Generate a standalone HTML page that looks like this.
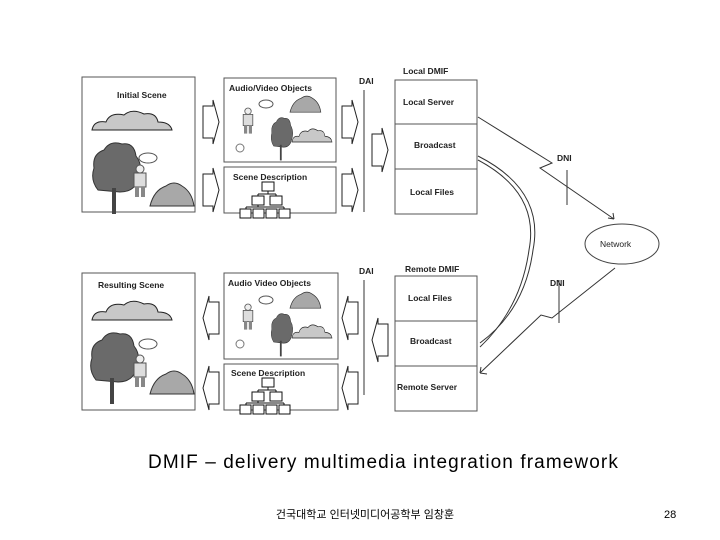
<!DOCTYPE html>
<html><head><meta charset="utf-8"><style>
html,body{margin:0;padding:0;background:#fff;}
body{width:720px;height:540px;position:relative;overflow:hidden;font-family:"Liberation Sans",sans-serif;}
</style></head><body>
<svg width="720" height="540" viewBox="0 0 720 540" xmlns="http://www.w3.org/2000/svg" style="position:absolute;left:0;top:0">
<defs>
<g id="cloud"><path d="M0,20 Q2,10 14,12 Q18,2 32,5 Q40,-2 52,4 Q64,2 66,12 Q78,12 80,20 Z" fill="#c8c8c8" stroke="#222" stroke-width="1"/></g>
<g id="tree"><path d="M8,50 Q0,40 4,28 Q2,14 14,10 Q20,0 32,4 Q44,2 46,16 Q54,26 48,40 Q44,52 30,52 Z" fill="#6a6a6a" stroke="#333"/><rect x="22" y="48" width="4" height="26" fill="#444"/></g>
<g id="rock"><path d="M0,26 Q4,10 16,6 Q24,0 32,6 Q42,12 44,26 Z" fill="#a8a8a8" stroke="#333"/></g>
<g id="boy"><rect x="4" y="8" width="12" height="14" fill="#ddd" stroke="#555"/><circle cx="10" cy="4" r="4" fill="#eee" stroke="#555"/><rect x="5" y="22" width="4" height="10" fill="#888"/><rect x="11" y="22" width="4" height="10" fill="#888"/></g>
<g id="rarr"><path d="M0,6 H10 V0 L16,22 L10,44 V38 H0 Z" fill="#fff" stroke="#222" stroke-width="1"/></g>
<g id="larr"><path d="M16,6 H6 V0 L0,22 L6,44 V38 H16 Z" fill="#fff" stroke="#222" stroke-width="1"/></g>
<g id="tree2" fill="#fff" stroke="#111" stroke-width="1">
<rect x="22" y="0" width="12" height="9"/><rect x="12" y="14" width="12" height="9"/><rect x="30" y="14" width="12" height="9"/>
<rect x="0" y="27" width="11" height="9"/><rect x="13" y="27" width="11" height="9"/><rect x="26" y="27" width="11" height="9"/><rect x="39" y="27" width="11" height="9"/>
<path d="M28,9 V12 M18,12 H36 M18,12 V14 M36,12 V14 M18,23 V25 M6,25 H44 M6,25 V27 M44,25 V27" fill="none"/></g>
<g id="avobj">
<g transform="translate(16,30) scale(0.8)"><use href="#boy"/></g>
<ellipse cx="42" cy="26" rx="7" ry="4" fill="#fff" stroke="#555"/>
<g transform="translate(46,38) scale(0.45,0.6)"><use href="#tree"/></g>
<g transform="translate(66,16) scale(0.7)"><use href="#rock"/></g>
<g transform="translate(68,50) scale(0.5,0.7)"><use href="#cloud"/></g>
<circle cx="16" cy="70" r="4" fill="#fff" stroke="#777"/>
</g>
</defs>
<g font-family="Liberation Sans, sans-serif" font-weight="bold" font-size="8.5" fill="#222">
<!-- top -->
<rect x="82" y="77" width="113" height="135" fill="#fff" stroke="#555"/>
<text x="117" y="98">Initial Scene</text>
<use href="#cloud" x="92" y="110"/>
<use href="#tree" x="90" y="140"/>
<use href="#boy" x="130" y="165"/>
<ellipse cx="148" cy="158" rx="9" ry="5" fill="#fff" stroke="#555"/>
<use href="#rock" x="150" y="180"/>
<rect x="224" y="78" width="112" height="84" fill="#fff" stroke="#555"/>
<text x="229" y="91">Audio/Video Objects</text>
<use href="#avobj" x="224" y="78"/>
<rect x="224" y="167" width="112" height="46" fill="#fff" stroke="#555"/>
<text x="233" y="180">Scene Description</text>
<use href="#tree2" x="240" y="182"/>
<use href="#rarr" x="203" y="100"/><use href="#rarr" x="203" y="168"/>
<use href="#rarr" x="342" y="100"/><use href="#rarr" x="342" y="168"/>
<use href="#rarr" x="372" y="128"/>
<line x1="364" y1="90" x2="364" y2="212" stroke="#777" stroke-width="1.5"/>
<text x="359" y="84">DAI</text>
<text x="403" y="74">Local DMIF</text>
<rect x="395" y="80" width="82" height="134" fill="#fff" stroke="#555"/>
<line x1="395" y1="124" x2="477" y2="124" stroke="#555"/><line x1="395" y1="169" x2="477" y2="169" stroke="#555"/>
<text x="403" y="105">Local Server</text>
<text x="414" y="148">Broadcast</text>
<text x="410" y="195">Local Files</text>
<!-- bottom -->
<rect x="82" y="273" width="113" height="137" fill="#fff" stroke="#555"/>
<text x="98" y="288">Resulting Scene</text>
<use href="#cloud" x="92" y="300"/>
<use href="#tree" x="88" y="330"/>
<use href="#boy" x="130" y="355"/>
<ellipse cx="148" cy="344" rx="9" ry="5" fill="#fff" stroke="#555"/>
<use href="#rock" x="150" y="368"/>
<rect x="224" y="273" width="114" height="86" fill="#fff" stroke="#555"/>
<text x="228" y="286">Audio Video Objects</text>
<use href="#avobj" x="224" y="274"/>
<rect x="224" y="364" width="114" height="46" fill="#fff" stroke="#555"/>
<text x="231" y="376">Scene Description</text>
<use href="#tree2" x="240" y="378"/>
<use href="#larr" x="203" y="296"/><use href="#larr" x="203" y="366"/>
<use href="#larr" x="342" y="296"/><use href="#larr" x="342" y="366"/>
<use href="#larr" x="372" y="318"/>
<line x1="364" y1="280" x2="364" y2="395" stroke="#777" stroke-width="1.5"/>
<text x="359" y="274">DAI</text>
<text x="405" y="272">Remote DMIF</text>
<rect x="395" y="276" width="82" height="135" fill="#fff" stroke="#555"/>
<line x1="395" y1="321" x2="477" y2="321" stroke="#555"/><line x1="395" y1="366" x2="477" y2="366" stroke="#555"/>
<text x="408" y="301">Local Files</text>
<text x="410" y="344">Broadcast</text>
<text x="397" y="390">Remote Server</text>
<!-- network -->
<ellipse cx="622" cy="244" rx="37" ry="20" fill="#fff" stroke="#444"/>
<text x="600" y="247" font-weight="normal">Network</text>
<text x="557" y="161">DNI</text>
<text x="550" y="286">DNI</text>
<g fill="none" stroke="#333" stroke-width="1">
<polyline points="478,117 552,163 540,168 614,219"/>
<path d="M614,219 l-6,-1 M614,219 l-1,-6"/>
<line x1="567" y1="170" x2="567" y2="205"/>
<polyline points="615,268 552,318 541,315 480,373"/>
<path d="M480,373 l7,1 M480,373 l1,-6"/>
<line x1="559" y1="280" x2="559" y2="323"/>
<path d="M478,156 Q545,190 533,250 Q525,310 480,343"/>
<path d="M478,160 Q540,193 529,250 Q521,308 480,347"/>
</g>
</g>
<text x="148" y="468" font-family="Liberation Sans, sans-serif" font-size="19" letter-spacing="1.1" fill="#000">DMIF – delivery multimedia integration framework</text>
<text x="365" y="518" text-anchor="middle" font-family="Liberation Sans, 'Noto Sans CJK KR', sans-serif" font-size="11" fill="#000">건국대학교 인터넷미디어공학부 임창훈</text>
<text x="664" y="518" font-family="Liberation Sans, sans-serif" font-size="11" fill="#000">28</text>
</svg>
</body></html>
